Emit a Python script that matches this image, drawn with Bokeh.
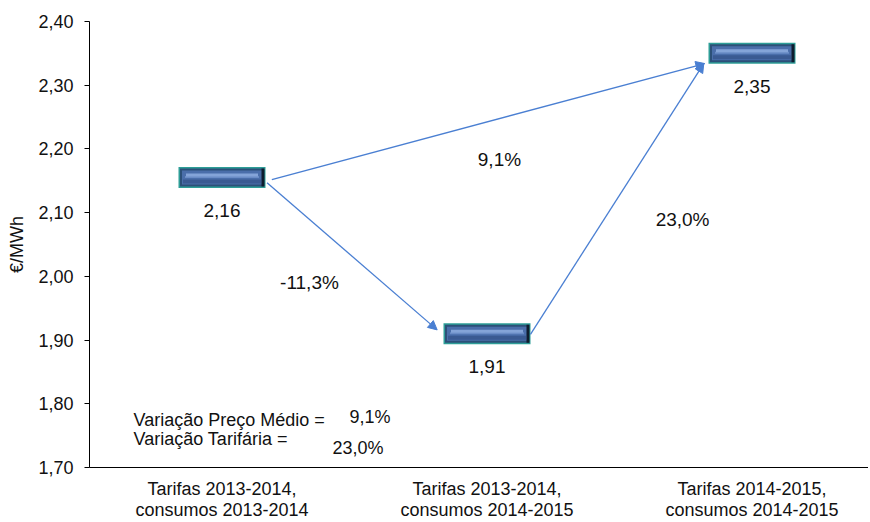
from bokeh.plotting import figure
from bokeh.models import (Range1d, FixedTicker, CustomJSTickFormatter, Arrow,
                          NormalHead, ColumnDataSource, Label)
from bokeh.core.properties import value
from bokeh.embed import file_html
from bokeh.resources import INLINE

# ---- data ----
categories = ["Tarifas 2013-2014,\nconsumos 2013-2014",
              "Tarifas 2013-2014,\nconsumos 2014-2015",
              "Tarifas 2014-2015,\nconsumos 2014-2015"]
prices = [2.155, 1.91, 2.35]
price_labels = ["2,16", "1,91", "2,35"]
variations = ["-11,3%", "9,1%", "23,0%"]
y_ticks = [1.70, 1.80, 1.90, 2.00, 2.10, 2.20, 2.30, 2.40]
note_lines = ["Variação Preço Médio =", "Variação Tarifária ="]
note_values = ["9,1%", "23,0%"]

xpos = [i + 0.5 for i in range(len(categories))]
FONT = "Liberation Sans"
FS = "18px"
FS_BIG = "19px"
TXT = "#111111"

FW, FH = 779, 446
X0, X1 = 0.0, FW / 265.0
Y0, Y1 = 1.70, 2.40
p = figure(frame_width=FW, frame_height=FH, output_backend="svg", toolbar_location=None,
           x_range=Range1d(X0, X1), y_range=Range1d(Y0, Y1),
           min_border_left=89, min_border_top=21, min_border_bottom=20,
           min_border_right=0)
p.outline_line_color = None
p.xgrid.visible = False
p.ygrid.visible = False
p.background_fill_color = "white"

# pixel sizes in data units (bevel styling only)
px_x = (X1 - X0) / FW
px_y = (Y1 - Y0) / FH

# y axis
p.yaxis.ticker = FixedTicker(ticks=y_ticks)
p.yaxis.formatter = CustomJSTickFormatter(code="return tick.toFixed(2).replace('.', ',');")
p.yaxis.axis_label = "€/MWh"
p.yaxis.axis_label_text_font = FONT
p.yaxis.axis_label_text_font_style = "normal"
p.yaxis.axis_label_text_font_size = FS
p.yaxis.axis_label_text_color = TXT
p.yaxis.axis_label_standoff = 8
p.yaxis.major_label_text_font = FONT
p.yaxis.major_label_text_font_size = FS
p.yaxis.major_label_text_color = TXT
p.yaxis.major_label_standoff = 11
p.yaxis.major_tick_in = 0
p.yaxis.major_tick_out = 5
p.yaxis.minor_tick_line_color = None
p.yaxis.axis_line_color = "black"
p.yaxis.major_tick_line_color = "black"

# x axis
p.xaxis.ticker = FixedTicker(ticks=xpos)
p.xaxis.major_label_overrides = {x: c for x, c in zip(xpos, categories)}
p.xaxis.major_label_text_font = FONT
p.xaxis.major_label_text_font_size = FS
p.xaxis.major_label_text_line_height = 1.05
p.xaxis.major_label_text_color = TXT
p.xaxis.major_label_standoff = 11
p.xaxis.major_tick_line_color = None
p.xaxis.major_tick_in = 0
p.xaxis.major_tick_out = 0
p.xaxis.minor_tick_line_color = None
p.xaxis.axis_line_color = "black"

# bars (beveled look)
src = ColumnDataSource(dict(x=xpos, y=prices, lab=price_labels))
def layer(w, h, color, dx=0, dy=0):
    p.rect([x + dx * px_x for x in xpos], [y + dy * px_y for y in prices],
           width=w, height=h, width_units="screen", height_units="screen",
           fill_color=color, line_color=None)

layer(87, 21, "#2E9E97")              # teal frame
layer(84, 18, "#2C5078")              # bevel edge
layer(80, 14, "#4A6EAA")              # body
layer(78, 4, "#3A5A92", dy=-4)        # lower darker zone
layer(74, 2, "#6A8CC6", dy=0.5)       # soft transition
layer(72, 3, "#84A4D8", dy=2.5)       # light band
layer(3, 18, "#0F1D2E", dx=41)        # dark right bevel

# value labels under bars
p.text("x", "y", text="lab", source=src, y_offset=33, text_align="center",
       text_baseline="middle", text_font=value(FONT), text_font_size=FS_BIG,
       text_color=TXT)

# arrows
acol = "#4A7FD2"
hw = 0.166  # half bar width in x units
arrows = [
    (xpos[0] + hw + 0.004, prices[0] - 0.008, xpos[1] - hw - 0.022, prices[1] + 0.006),
    (xpos[0] + hw + 0.022, prices[0] - 0.003, xpos[2] - hw - 0.012, prices[2] - 0.016),
    (xpos[1] + hw - 0.002, prices[1] - 0.001, xpos[2] - hw - 0.016, prices[2] - 0.016),
]
for xs, ys, xe, ye in arrows:
    p.add_layout(Arrow(x_start=xs, y_start=ys, x_end=xe, y_end=ye,
                       line_color=acol, line_width=1.3,
                       end=NormalHead(size=9, fill_color=acol, line_color=acol)))

# variation labels
var_x = [0.830, 1.547, 2.238]
var_y = [1.990, 2.183, 2.089]
for vx, vy, t in zip(var_x, var_y, variations):
    p.add_layout(Label(x=vx, y=vy, text=t, text_align="center", text_baseline="middle",
                       text_font=FONT, text_font_size=FS_BIG, text_color=TXT))

# note block
note_x = [0.166, 0.166]
note_y = [1.774, 1.744]
val_x = [0.981, 0.917]
val_y = [1.780, 1.730]
for nx, ny, t in zip(note_x, note_y, note_lines):
    p.add_layout(Label(x=nx, y=ny, text=t, text_align="left", text_baseline="middle",
                       text_font=FONT, text_font_size=FS, text_color=TXT))
for nx, ny, t in zip(val_x, val_y, note_values):
    p.add_layout(Label(x=nx, y=ny, text=t, text_align="left", text_baseline="middle",
                       text_font=FONT, text_font_size=FS, text_color=TXT))

open("out.html", "w").write(file_html(p, INLINE))
